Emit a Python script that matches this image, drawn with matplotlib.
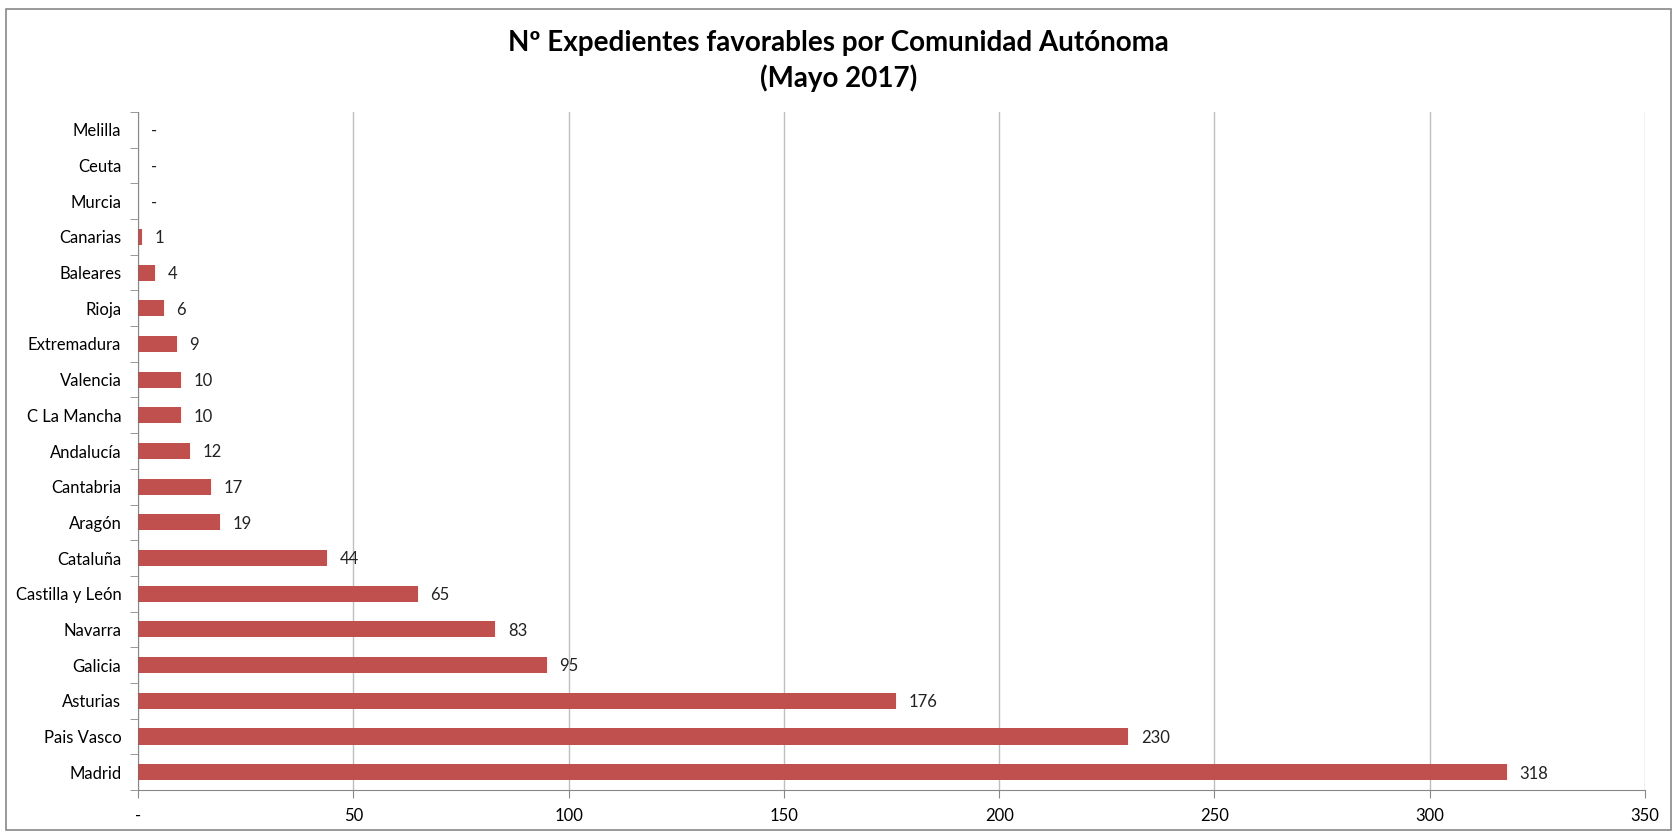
import matplotlib.pyplot as plt
from matplotlib.patches import Rectangle

comunidades = ["Madrid", "Pais Vasco", "Asturias", "Galicia", "Navarra",
               "Castilla y León", "Cataluña", "Aragón", "Cantabria", "Andalucía",
               "C La Mancha", "Valencia", "Extremadura", "Rioja", "Baleares",
               "Canarias", "Murcia", "Ceuta", "Melilla"]
expedientes = [318, 230, 176, 95, 83, 65, 44, 19, 17, 12,
               10, 10, 9, 6, 4, 1, 0, 0, 0]
xticks = [0, 50, 100, 150, 200, 250, 300, 350]
xlabels = ["-", "50", "100", "150", "200", "250", "300", "350"]

plt.rcParams["font.family"] = ["Lato", "DejaVu Sans"]

W, H = 1677, 832
fig = plt.figure(figsize=(W / 100, H / 100), dpi=100)
ax = fig.add_axes([138 / W, 1 - 790 / H, (1645 - 138) / W, (790 - 112) / H])

pos = list(range(len(comunidades)))
ax.barh(pos, expedientes, height=0.45, color="#C0504D", zorder=3)
for y, v in zip(pos, expedientes):
    ax.annotate(str(v) if v else "-", (v, y), xytext=(9, -1), textcoords="offset points",
                va="center", ha="left", fontsize=12, color="#222222")

ax.set_xlim(0, 350)
ax.set_ylim(-0.5, len(comunidades) - 0.5)
ax.set_xticks(xticks)
ax.set_xticklabels(xlabels, fontsize=12)
ax.set_yticks(pos)
ax.set_yticklabels(comunidades, fontsize=12)
ax.set_yticks([p - 0.5 for p in pos] + [len(pos) - 0.5], minor=True)
ax.tick_params(axis="y", which="major", length=0, pad=12)
ax.tick_params(axis="y", which="minor", length=6, color="#888888")
ax.tick_params(axis="x", length=6, color="#888888", pad=7)
ax.grid(axis="x", color="#BFBFBF", linewidth=1, zorder=0)
for s in ["top", "right"]:
    ax.spines[s].set_visible(False)
for s in ["left", "bottom"]:
    ax.spines[s].set_color("#888888")

fig.text(0.5, 1 - 43 / H, "Nº Expedientes favorables por Comunidad Autónoma",
         ha="center", va="center", fontsize=20, fontweight="bold")
fig.text(0.5, 1 - 78 / H, "(Mayo 2017)", ha="center", va="center",
         fontsize=20, fontweight="bold")

fig.patches.append(Rectangle((6 / W, 0.002), 1 - 12 / W, 1 - 9 / H - 0.002,
                             transform=fig.transFigure, fill=False,
                             edgecolor="#888888", linewidth=1.2))

fig.savefig("out.png", dpi=100)
